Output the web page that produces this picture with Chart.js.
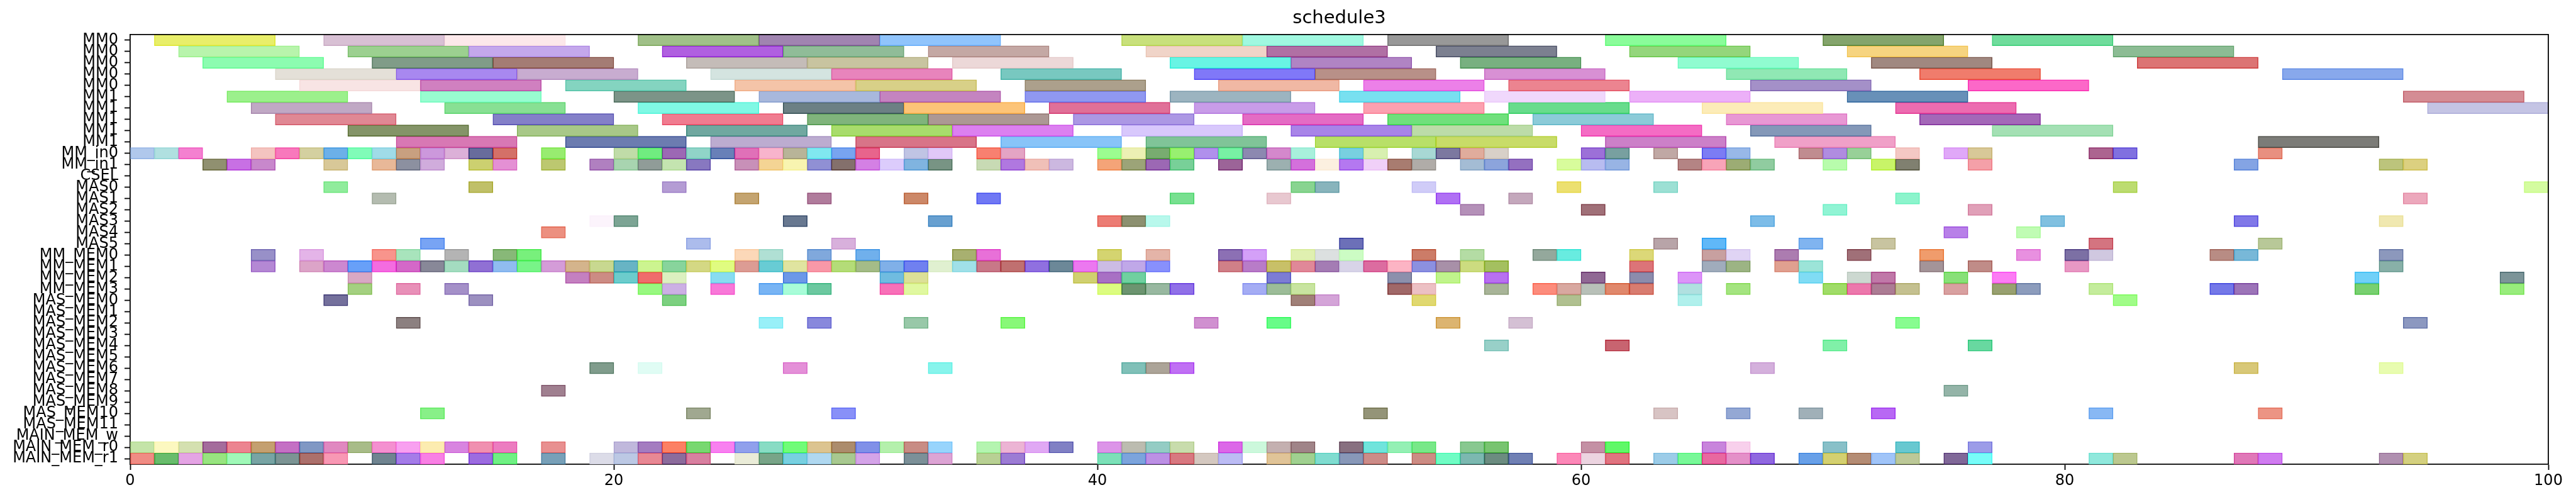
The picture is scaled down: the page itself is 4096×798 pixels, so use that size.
<!DOCTYPE html>
<html lang="en">
<head>
<meta charset="UTF-8" />
<title>schedule3</title>
<script src="https://cdn.jsdelivr.net/npm/chart.js"></script>
<style>
  body { margin: 0; background: #fff; }
  .wrap { width: 4096px; height: 798px; }
</style>
</head>
<body>
<div class="wrap"><canvas id="chart" width="4096" height="798"></canvas></div>
<script>
  // row names, top to bottom
  const rowLabels = [
    'MM0', 'MM0', 'MM0', 'MM0', 'MM0', 'MM1', 'MM1', 'MM1', 'MM1', 'MM1',
    'MM_in0', 'MM_in1', 'CSEL', 'MAS0', 'MAS1', 'MAS2', 'MAS3', 'MAS4', 'MAS5',
    'MM_MEM0', 'MM_MEM1', 'MM_MEM2', 'MM_MEM3',
    'MAS_MEM0', 'MAS_MEM1', 'MAS_MEM2', 'MAS_MEM3', 'MAS_MEM4', 'MAS_MEM5',
    'MAS_MEM6', 'MAS_MEM7', 'MAS_MEM8', 'MAS_MEM9', 'MAS_MEM10', 'MAS_MEM11',
    'MAIN_MEM_w', 'MAIN_MEM_r0', 'MAIN_MEM_r1'
  ];

  // duration of one task in each row
  const taskLength = [5, 5, 5, 5, 5, 5, 5, 5, 5, 5].concat(new Array(28).fill(1));

  // start time of every task, one list per row
  const starts = [
    [1, 8, 13, 21, 26, 31, 41, 46, 52, 61, 70, 77],
    [2, 9, 14, 22, 27, 33, 42, 47, 54, 62, 71, 82],
    [3, 10, 15, 23, 28, 34, 43, 48, 55, 64, 72, 83],
    [6, 11, 16, 24, 29, 36, 44, 49, 56, 66, 74, 89],
    [7, 12, 18, 25, 30, 37, 45, 51, 57, 67, 76],
    [4, 12, 20, 26, 31, 37, 43, 50, 56, 62, 71, 94],
    [5, 13, 21, 27, 32, 38, 44, 51, 57, 65, 73, 95],
    [6, 15, 22, 28, 33, 39, 46, 52, 58, 66, 74],
    [9, 16, 23, 29, 34, 41, 48, 53, 60, 67, 77],
    [11, 18, 24, 30, 36, 42, 49, 54, 61, 68, 88],
    // MM_in0
    [0, 1, 2, 5, 6, 7, 8, 9, 10, 11, 12, 13, 14, 15, 17, 20, 21, 22, 23, 24, 25, 26, 27, 28, 29, 30,
     32, 33, 35, 36, 40, 41, 42, 43, 44, 45, 46, 47, 48, 50, 51, 53, 54, 55, 56, 60, 61, 63, 65, 66,
     69, 70, 71, 73, 75, 76, 81, 82, 88],
    // MM_in1
    [3, 4, 5, 8, 10, 11, 12, 14, 15, 17, 19, 20, 21, 22, 23, 25, 26, 27, 28, 29, 30, 31, 32, 33, 35,
     36, 37, 38, 40, 41, 42, 43, 45, 47, 48, 49, 50, 51, 52, 53, 55, 56, 57, 59, 60, 61, 64, 65, 66,
     67, 70, 72, 73, 76, 87, 93, 94],
    [],
    [8, 14, 22, 48, 49, 53, 59, 63, 82, 99],
    [10, 25, 28, 32, 35, 43, 47, 54, 57, 73, 94],
    [55, 60, 70, 76],
    [19, 20, 27, 33, 40, 41, 42, 67, 79, 87, 93],
    [17, 75, 78],
    [12, 23, 29, 50, 63, 65, 69, 72, 81, 88],
    // MM_MEM0
    [5, 7, 10, 11, 13, 15, 16, 25, 26, 28, 30, 34, 35, 40, 42, 45, 46, 48, 49, 50, 53, 55, 58, 59,
     62, 65, 66, 68, 71, 74, 78, 80, 81, 86, 87, 93],
    // MM_MEM1
    [5, 7, 8, 9, 10, 11, 12, 13, 14, 15, 16, 17, 18, 19, 20, 21, 22, 23, 24, 25, 26, 27, 28, 29, 30,
     31, 32, 33, 34, 35, 36, 37, 38, 39, 40, 41, 42, 45, 46, 47, 48, 49, 50, 51, 52, 53, 54, 55, 56,
     62, 65, 66, 68, 69, 74, 76, 80, 93],
    // MM_MEM2
    [9, 18, 19, 20, 21, 22, 24, 27, 31, 32, 39, 40, 41, 47, 52, 54, 56, 60, 62, 64, 69, 71, 72, 75,
     77, 92, 98],
    // MM_MEM3
    [9, 11, 13, 21, 22, 24, 26, 27, 28, 31, 32, 40, 41, 42, 43, 46, 47, 48, 52, 53, 56, 58, 59, 60,
     61, 62, 64, 66, 70, 71, 72, 73, 75, 77, 78, 81, 86, 87, 92, 98],
    [8, 14, 22, 48, 49, 53, 59, 64, 82],
    [],
    [11, 26, 28, 32, 36, 44, 47, 54, 57, 73, 94],
    [],
    [56, 61, 70, 76],
    [],
    [19, 21, 27, 33, 41, 42, 43, 67, 87, 93],
    [],
    [17, 75],
    [],
    [12, 23, 29, 51, 63, 66, 69, 72, 81, 88],
    [],
    [],
    // MAIN_MEM_r0
    [0, 1, 2, 3, 4, 5, 6, 7, 8, 9, 10, 11, 12, 13, 14, 15, 17, 20, 21, 22, 23, 24, 25, 26, 27, 28,
     29, 30, 31, 32, 33, 35, 36, 37, 38, 40, 41, 42, 43, 45, 46, 47, 48, 50, 51, 52, 53, 55, 56, 60,
     61, 65, 66, 70, 73, 76],
    // MAIN_MEM_r1
    [0, 1, 2, 3, 4, 5, 6, 7, 8, 10, 11, 12, 14, 15, 17, 19, 20, 21, 22, 23, 25, 26, 27, 28, 29, 30,
     32, 33, 35, 36, 40, 41, 42, 43, 44, 45, 47, 48, 49, 50, 51, 53, 54, 55, 56, 57, 59, 60, 61, 63,
     64, 65, 66, 67, 69, 70, 71, 72, 73, 75, 76, 81, 82, 87, 88, 93, 94]
  ];

  // fill colour of every task, same order as starts
  const colors = [
    ['#e8ee6a', '#d8c0d4', '#fce8ea', '#a0c088', '#a084b0', '#90c4fc', '#c8e07c', '#a0f8e0', '#989898', '#8afc9a', '#84a46c', '#70dc9c'],
    ['#b8f4ac', '#9cd090', '#c4a8ec', '#b060e0', '#90bc98', '#c4a8a4', '#f0d4c8', '#b070a4', '#7c8090', '#94d67c', '#f6d480', '#8cbc94'],
    ['#8cfcb0', '#809c88', '#a47c74', '#c4bcb8', '#c8c4a0', '#ecd8d8', '#68f4e4', '#b084c4', '#78b080', '#90fcd0', '#a08880', '#dc7474'],
    ['#e4e0d8', '#a888f0', '#c8acd0', '#d4e4e0', '#e884bc', '#78c8c0', '#8078f8', '#b89088', '#d890d4', '#90e8b4', '#f07c6c', '#88a8ec'],
    ['#f8e4e4', '#d080c0', '#84d4c0', '#f4c4a8', '#d8d088', '#aca08c', '#f0b8a4', '#ec80e8', '#ec8490', '#a490c8', '#fc68c8'],
    ['#9cf08c', '#98fcd0', '#7c9488', '#a8b8dc', '#c484c0', '#9098f0', '#9cb4c0', '#78e0f0', '#f0d8fc', '#ecb0f8', '#6890b8', '#d48c94'],
    ['#c0a8c4', '#88e094', '#80f8e4', '#6c8084', '#fcc478', '#e07098', '#c89ce8', '#fca0b0', '#68dc8c', '#fcecb8', '#ec6cb0', '#c4c4e4'],
    ['#e08894', '#8480c8', '#f07c90', '#80b47c', '#ac9894', '#ac98e4', '#e46cc4', '#70e07c', '#8ccbd8', '#e898d4', '#a468b8'],
    ['#849468', '#a8c888', '#70a8a0', '#a8dc6c', '#dc80f0', '#d8c8fc', '#a884e8', '#bcdca8', '#f46cc4', '#8498b8', '#a4e0b4'],
    ['#d878b4', '#6c7cb0', '#bcacd0', '#d87488', '#88c4f8', '#80c498', '#b8e068', '#c8dc68', '#cc80c8', '#f0a0c8', '#7c7c78'],
    ['#b0c8ec', '#b0e0e0', '#f480d0', '#f4c4c0', '#f878bc', '#d4d0a0', '#6cb0e8', '#80fcb8', '#a0dce8', '#c8a080',
     '#cc98dc', '#dcb0d8', '#686c9c', '#d47068', '#98ec70', '#c0dca8', '#70ec80', '#9c68b4', '#90d4c8', '#6880b8',
     '#e070b8', '#f8b4cc', '#b8b498', '#80e8f0', '#78a4f0', '#e8648c', '#c0c4e4', '#e0c8f8', '#f88070', '#e4a4c4',
     '#9cfc90', '#ecf0b4', '#78ac70', '#98f070', '#b090ec', '#78f0a4', '#8c88b0', '#d488cc', '#a8f0dc', '#78d0e0',
     '#d8f0b0', '#a8d8d4', '#7c78a0', '#e0ac9c', '#d8d0c8', '#9c70d8', '#78a0a0', '#c0a8a4', '#7c7cf4', '#98b8e8',
     '#c08c90', '#b08ce0', '#98d098', '#f4c8c4', '#e0a8f8', '#d8c898', '#ac6490', '#8070e0', '#e89080'],
    ['#909070', '#c870e4', '#c888cc', '#d8c898', '#e8b898', '#8c90a0', '#d0acdc', '#ccd070', '#e490d4', '#bcc870',
     '#b080c0', '#a8d4b0', '#909c98', '#c4e4b0', '#8878c0', '#c890b8', '#f4d494', '#f8f4b0', '#9090d4', '#84706c',
     '#d480e4', '#dcccfc', '#80b4e0', '#789484', '#c8dab4', '#b078e0', '#f0c0b8', '#ccb8e0', '#f4a478', '#9ca478',
     '#9c68b4', '#78d098', '#9c6498', '#9cb0b0', '#d470dc', '#fcf0e0', '#b478f0', '#f0d0f8', '#a87c70', '#b0aca8',
     '#a4bcd4', '#8ca4dc', '#9470c0', '#d8fc9c', '#b8bcf0', '#98b4e4', '#b48484', '#f8a4b8', '#9cac74', '#90cca0',
     '#b8fcac', '#c8f468', '#808070', '#f4a0a8', '#84a4e4', '#bcc47c', '#dcd080'],
    [],
    ['#90ec9c', '#c0c068', '#b49cd4', '#88d490', '#88b4bc', '#d0ccf8', '#ece070', '#9ce0d4', '#bcdc70', '#d4fca0'],
    ['#b4bcb0', '#c4a470', '#b07c9c', '#cc8868', '#7078f4', '#78e090', '#e8c8d0', '#b070f4', '#c4a8bc', '#8cf4cc', '#eca8bc'],
    ['#b490b8', '#a07078', '#90f4d4', '#e0a0b8'],
    ['#fcf4fc', '#7ca494', '#687890', '#68a0d0', '#ec7c74', '#8c9070', '#b8f8ec', '#7cbce8', '#80c0e0', '#8078e8', '#f0e8b0'],
    ['#ec9080', '#b880e8', '#c0fcb4'],
    ['#78a4f4', '#acbcec', '#d8b0dc', '#6c70b8', '#b8a4a8', '#60b8f8', '#80b4f0', '#c8c4a0', '#d47480', '#b8c898'],
    ['#9890c8', '#e4b4e8', '#f8948c', '#a8e4bc', '#b4b4b4', '#88b878', '#78f07c', '#fcd8b8', '#b0e0d4', '#80a8dc',
     '#70b0ec', '#a8b070', '#e870d8', '#d4d470', '#e4b4a8', '#8c70b4', '#d4a0f8', '#e0f0b0', '#dce0e0', '#ccfcc4',
     '#cc7c68', '#b4dca4', '#94a89c', '#68ece0', '#dcd878', '#c8a0a0', '#e0d4f4', '#ac7cb0', '#a07078', '#f09c6c',
     '#e890e0', '#7c70a4', '#d0c8e0', '#b88c84', '#78b8d8', '#8c98bc'],
    ['#b488d4', '#dca4c8', '#cc88d0', '#68a0f8', '#f46ce0', '#d468c8', '#888898', '#a4dcc0', '#9070d4', '#90bcf0',
     '#78f488', '#d49cd8', '#d4b48c', '#c8d890', '#68b4c4', '#ccf490', '#88d49c', '#d4d884', '#e0fc80', '#dc9c94',
     '#68ccd4', '#e0e4a0', '#f898a8', '#b4dc78', '#a4bc88', '#80b0e8', '#7080f0', '#e0f0d0', '#a0e0e8', '#c87888',
     '#c07070', '#9070e0', '#6c8898', '#ec78f0', '#ccbce4', '#c0a8e8', '#8890fc', '#d08088', '#b87cc8', '#c8c068',
     '#e08898', '#a47cb4', '#d8d4e8', '#dc6ca0', '#fcb4c4', '#8c90e0', '#a890a8', '#ccdc80', '#a4c060', '#dc7478',
     '#a0acbc', '#9cb484', '#e0a090', '#9ce4d8', '#a49498', '#c08c88', '#e898c4', '#88b0a8'],
    ['#d8a8c4', '#c480c0', '#cc8c84', '#6ccccc', '#f06c6c', '#dcf0c0', '#88dcf0', '#6c98e8', '#70bce0', '#dce098',
     '#d0d070', '#a870c4', '#70d0a0', '#7c7cd4', '#8c90ac', '#c0f48c', '#b870f0', '#906894', '#8c8cac', '#dc94f8',
     '#80dcf4', '#ccd8d0', '#c078a8', '#88e078', '#fc7cf4', '#70d0f8', '#7c9498'],
    ['#a4d080', '#e890b8', '#a490c8', '#98f880', '#ccb0e4', '#f878d8', '#78b4f4', '#a8fcd8', '#6cc8a0', '#f870b8',
     '#e0f8a0', '#dcfc80', '#6c9470', '#98b8a0', '#9070e8', '#a4acf4', '#9cbc98', '#c8e4a0', '#a06868', '#ecc0c4',
     '#a8b498', '#fc8c7c', '#d8a8a0', '#b8c0b8', '#e0886c', '#d87c70', '#b0e0e0', '#a4e480', '#a0dc68', '#ec78ac',
     '#ac7c94', '#c4c090', '#d8a0a0', '#98a070', '#8c9cbc', '#c4ec9c', '#7478e8', '#9c74b8', '#78d070', '#98ec7c'],
    ['#74709c', '#9c90c0', '#7cd080', '#a08078', '#d4a4d8', '#e0d870', '#b0c090', '#b0f0ec', '#a0fc88'],
    [],
    ['#8c8080', '#98f0f8', '#8888dc', '#98c8a8', '#88f878', '#d090d0', '#68fc88', '#dcb470', '#d4c0d4', '#88fc90', '#8c98c0'],
    [],
    ['#98d0c8', '#c86470', '#80f0a8', '#68d8a0'],
    [],
    ['#809c8c', '#e0fcf4', '#e490d8', '#88f4ec', '#80c0b8', '#aca498', '#c070f4', '#d4b0dc', '#d8c878', '#e8fcb0'],
    [],
    ['#a08090', '#94b4a8'],
    [],
    ['#88f088', '#a0a890', '#8890f8', '#949478', '#d8c4c4', '#94a8d4', '#a0b0b8', '#b868f4', '#88b8f4', '#ec9484'],
    [],
    [],
    ['#c4e4a8', '#fcf8c0', '#d4e0b0', '#a46c9c', '#ec8490', '#c4a070', '#c470c4', '#8098c4', '#e088c0', '#a8bc88',
     '#f490d0', '#f8a0f0', '#fcecb0', '#d884e0', '#f090b0', '#ec7cc0', '#e89090', '#c0b8dc', '#a47cc0', '#fc8064',
     '#78d870', '#f880f0', '#90a0ec', '#88dcc4', '#70fc78', '#dcc490', '#ac8c6c', '#8090e8', '#b4f0ac', '#c88c84',
     '#98d4fc', '#b4f4b0', '#ecb4d4', '#e0a8f4', '#8080c4', '#dc94e8', '#bcbcb0', '#94ccc4', '#c8dcac', '#dc68e8',
     '#ccf8dc', '#c4b0b0', '#a08488', '#887080', '#70e4dc', '#94f0b4', '#78e888', '#88c890', '#78c470', '#c490a4',
     '#60f868', '#c884dc', '#f8d0ec', '#88c0c8', '#68c8d0', '#9c9ce8'],
    ['#f08c84', '#68bc6c', '#e4a4e4', '#98e480', '#a0f8b8', '#78a4a4', '#7c9494', '#ac706c', '#f898b4', '#708490',
     '#a47ce8', '#f880e4', '#9c6ce0', '#70f084', '#78a0b8', '#dcdce8', '#bcc8e4', '#e88894', '#8c6c9c', '#d880a0',
     '#eaecd8', '#78a488', '#78d0e0', '#b0d8f0', '#a8c890', '#d4a4e8', '#7c9098', '#dca4d4', '#b8d094', '#9c7cd4',
     '#7ce0b8', '#7ca4dc', '#bc90e4', '#d87880', '#d4c8c0', '#bcbcf4', '#e0c498', '#a0d090', '#80dcd0', '#8898b8',
     '#cc8c88', '#cc8c84', '#70fcc4', '#7cb8b0', '#6c8c80', '#7080b4', '#fc88b8', '#ecd4e0', '#e07480', '#9ccce8',
     '#78f898', '#e868a0', '#e490c8', '#9068e0', '#68a0e8', '#d4d070', '#b48c74', '#a0c4f8', '#bcc898', '#806898',
     '#78fcf8', '#90e8dc', '#bcc890', '#e078b8', '#d07cf0', '#b090b0', '#d4d080']
  ];

  // edge looks like the fill laid over itself once more
  function edgeOf(hex) {
    const n = parseInt(hex.slice(1), 16);
    const c = [n >> 16, (n >> 8) & 255, n & 255].map(v => Math.max(0, Math.round(v * 1.4 - 102)));
    return 'rgb(' + c.join(',') + ')';
  }

  const datasets = rowLabels.map((name, r) => ({
    label: name,
    data: starts[r].map(s => ({ x: [s, s + taskLength[r]], y: String(r) })),
    backgroundColor: starts[r].map((_, i) => colors[r][i] || '#cccccc'),
    borderColor: starts[r].map((_, i) => edgeOf(colors[r][i] || '#cccccc')),
    borderWidth: 1.5,
    borderSkipped: false,
    grouped: false,
    categoryPercentage: 1,
    barPercentage: 1
  }));

  // top and right spines
  const frame = {
    id: 'frame',
    afterDraw(chart) {
      const { ctx, chartArea: a } = chart;
      ctx.save();
      ctx.strokeStyle = '#000';
      ctx.lineWidth = 1.8;
      ctx.beginPath();
      ctx.moveTo(a.left, a.top);
      ctx.lineTo(a.right, a.top);
      ctx.lineTo(a.right, a.bottom);
      ctx.stroke();
      ctx.restore();
    }
  };

  const font = { family: 'DejaVu Sans', size: 24 };

  new Chart(document.getElementById('chart'), {
    type: 'bar',
    data: { labels: rowLabels.map((_, i) => String(i)), datasets },
    plugins: [frame],
    options: {
      indexAxis: 'y',
      responsive: false,
      devicePixelRatio: 1,
      animation: false,
      layout: { padding: { left: 0, right: 44, top: 0, bottom: 0 } },
      plugins: {
        legend: { display: false },
        tooltip: { enabled: false },
        title: {
          display: true,
          text: 'schedule3',
          fullSize: false,
          color: '#000',
          font: { family: 'DejaVu Sans', size: 29, weight: 'normal' },
          padding: { top: 12, bottom: 8 }
        }
      },
      scales: {
        x: {
          type: 'linear',
          min: 0,
          max: 100,
          z: 1,
          ticks: { stepSize: 20, color: '#000', font, padding: 3 },
          grid: { drawOnChartArea: false, tickLength: 9, tickWidth: 1.8, tickColor: '#000' },
          border: { color: '#000', width: 1.8 },
          afterFit(scale) { scale.height = 60; }
        },
        y: {
          type: 'category',
          offset: true,
          z: 1,
          ticks: {
            autoSkip: false,
            color: '#000',
            font,
            padding: 10,
            callback: (v, i) => rowLabels[i]
          },
          grid: { drawOnChartArea: false, offset: false, tickLength: 9, tickWidth: 1.8, tickColor: '#000' },
          border: { color: '#000', width: 1.8 },
          afterFit(scale) { scale.width = 207; }
        }
      }
    }
  });
</script>
</body>
</html>
